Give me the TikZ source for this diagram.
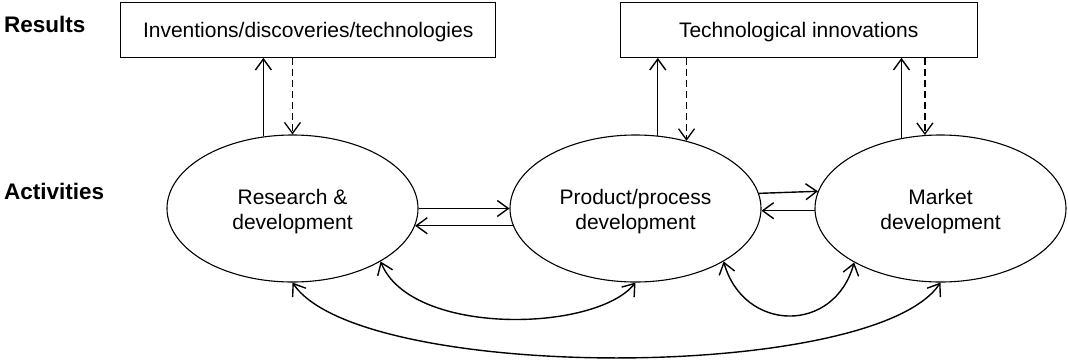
\documentclass[tikz,border=0pt]{standalone}
\usepackage{fontspec}
\setmainfont{Liberation Sans}
\usetikzlibrary{shapes.geometric,arrows.meta,calc}
\begin{document}
\begin{tikzpicture}[x=1pt,y=-1pt,
  >={Straight Barb[length=11pt,width=16pt]},
  every node/.style={font=\fontsize{21}{25}\selectfont},
  resultbox/.style={draw,line width=1.1pt,inner sep=0pt,minimum width=#1,minimum height=54.6pt,text height=15pt,text depth=0pt},
  activity/.style={ellipse,draw,line width=1.1pt,inner sep=0pt,minimum width=251pt,minimum height=147pt,align=center},
  rowlabel/.style={font=\fontsize{22.5}{27}\selectfont\bfseries,inner sep=0pt,anchor=base west},
  link/.style={line width=1.4pt},
  feedback/.style={line width=1.3pt,dash pattern=on 7pt off 4pt}
]
\useasboundingbox (0,0) rectangle (1068,360);

\node[rowlabel] (lres) at (4,32) {Results};
\node[rowlabel] (lact) at (4,199.3) {Activities};

\node[resultbox=375pt] (inv) at (308.2,30) {Inventions/discoveries/technologies};
\node[resultbox=357.3pt] (tin) at (798.7,30) {Technological innovations};

\node[activity] (rd) at (292.5,208.5) {\rule{0pt}{21pt}Research \&\\development};
\node[activity] (pp) at (635.5,208.5) {\rule{0pt}{21pt}Product/process\\development};
\node[activity] (md) at (940.5,208.5) {\rule{0pt}{21pt}Market\\development};

% vertical links
\draw[link,->] (rd.112.2) -- (rd.112.2 |- inv.south);
\draw[feedback,->] (inv.south -| rd.north) -- (rd.north);
\draw[link,->] (pp.73.7) -- (pp.73.7 |- tin.south);
\draw[feedback,->] (tin.south -| pp.53.3) -- (pp.53.3);
\draw[link,->] (md.119) -- (md.119 |- tin.south);
\draw[feedback,->] (tin.south -| md.102.75) -- (md.102.75);

% horizontal links
\draw[link,->] (rd.east) -- (pp.west);
\draw[link,->] (pp.188.9) -- (rd.-8.9);
\draw[link,->] (pp.7.4) -- (md.172.6);
\draw[link,->] (md.181.4) -- (pp.-1.4);

% bottom curves
\draw[link,<->] (rd.-31.4) .. controls +(30,75) and +(-40,50) .. (pp.south);
\draw[link,<->] (pp.-31.6) .. controls +(20,71) and +(-20,72) .. (md.-148.6);
\draw[link,<->] (rd.south) .. controls +(67,100) and +(-67,100) .. (md.south);
\end{tikzpicture}
\end{document}
